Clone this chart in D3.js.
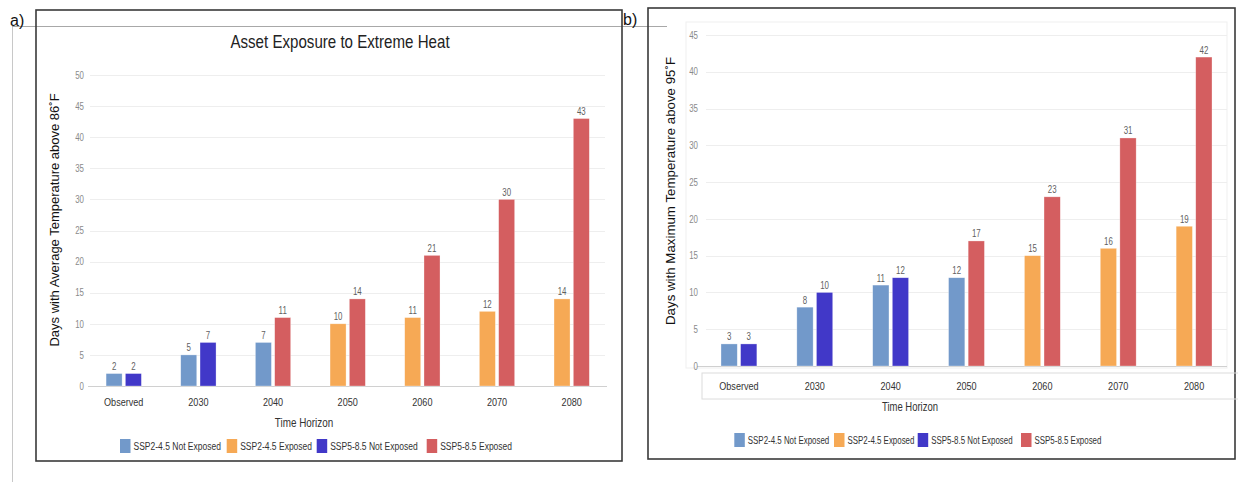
<!DOCTYPE html>
<html><head><meta charset="utf-8">
<script src="https://cdn.jsdelivr.net/npm/d3@7/dist/d3.min.js"></script>
<style>
html,body{margin:0;padding:0;background:#fff;}
svg{display:block;}
text{font-family:"Liberation Sans",Arial,sans-serif;}
</style>
</head><body>
<svg id="c" width="1238" height="482"></svg>
<script>
// ---------- data ----------
const categories = ["Observed","2030","2040","2050","2060","2070","2080"];
const seriesNames = ["SSP2-4.5 Not Exposed","SSP2-4.5 Exposed","SSP5-8.5 Not Exposed","SSP5-8.5 Exposed"];
const seriesColors = ["#7299CA","#F6A955","#4138C8","#D45E60"];

// panel a: average temperature above 86F
const aSSP245 = [2,5,7,10,11,12,14];
const aSSP245Series = ["SSP2-4.5 Not Exposed","SSP2-4.5 Not Exposed","SSP2-4.5 Not Exposed","SSP2-4.5 Exposed","SSP2-4.5 Exposed","SSP2-4.5 Exposed","SSP2-4.5 Exposed"];
const aSSP585 = [2,7,11,14,21,30,43];
const aSSP585Series = ["SSP5-8.5 Not Exposed","SSP5-8.5 Not Exposed","SSP5-8.5 Exposed","SSP5-8.5 Exposed","SSP5-8.5 Exposed","SSP5-8.5 Exposed","SSP5-8.5 Exposed"];
const aTicks = [0,5,10,15,20,25,30,35,40,45,50];

// panel b: maximum temperature above 95F
const bSSP245 = [3,8,11,12,15,16,19];
const bSSP245Series = ["SSP2-4.5 Not Exposed","SSP2-4.5 Not Exposed","SSP2-4.5 Not Exposed","SSP2-4.5 Not Exposed","SSP2-4.5 Exposed","SSP2-4.5 Exposed","SSP2-4.5 Exposed"];
const bSSP585 = [3,10,12,17,23,31,42];
const bSSP585Series = ["SSP5-8.5 Not Exposed","SSP5-8.5 Not Exposed","SSP5-8.5 Not Exposed","SSP5-8.5 Exposed","SSP5-8.5 Exposed","SSP5-8.5 Exposed","SSP5-8.5 Exposed"];
const bTicks = [0,5,10,15,20,25,30,35,40,45];

const color = d3.scaleOrdinal().domain(seriesNames).range(seriesColors);
const svg = d3.select("#c");
const SX = 0.79; // horizontal condensing to mimic the narrow font of the original

function ntext(parent, x, y, txt, size, fill, anchor, sx){
  return parent.append("text")
    .attr("transform",`translate(${x},${y}) scale(${sx||SX},1)`)
    .attr("text-anchor",anchor||"start").attr("dy","0.35em")
    .attr("fill",fill).style("font-size",size).text(txt);
}

// decorative page lines
svg.append("line").attr("x1",12.5).attr("x2",12.5).attr("y1",26).attr("y2",482).attr("stroke","#c8c8c8").attr("stroke-width",1);
svg.append("line").attr("x1",12).attr("x2",667).attr("y1",26.5).attr("y2",26.5).attr("stroke","#a8a8a8").attr("stroke-width",1);

function panel(o){
  const g = svg.append("g");
  g.append("rect").attr("x",o.frame[0]).attr("y",o.frame[1]).attr("width",o.frame[2]-o.frame[0]).attr("height",o.frame[3]-o.frame[1])
    .attr("fill","none").attr("stroke","#3a3a3a").attr("stroke-width",1.6);
  if (o.plotBox) g.append("rect").attr("x",o.plotBox[0]).attr("y",o.plotBox[1]).attr("width",o.plotBox[2]-o.plotBox[0]).attr("height",o.plotBox[3]-o.plotBox[1])
    .attr("fill","none").attr("stroke","#efefef").attr("stroke-width",1);
  if (o.axisBox) g.append("rect").attr("x",o.axisBox[0]).attr("y",o.axisBox[1]).attr("width",o.axisBox[2]-o.axisBox[0]).attr("height",o.axisBox[3]-o.axisBox[1])
    .attr("fill","none").attr("stroke","#dcdcdc").attr("stroke-width",1);

  const x = d3.scaleBand().domain(categories).range(o.xr).padding(0);
  const inner = d3.scaleBand().domain([0,1]).range([0,x.bandwidth()]).paddingInner(0.17).paddingOuter(1.02);
  const y = d3.scaleLinear().domain([0,o.ymax]).range(o.yr);

  g.append("g").selectAll("line").data(o.ticks.filter(t=>t>0)).join("line")
    .attr("x1",o.grid[0]).attr("x2",o.grid[1]).attr("y1",d=>Math.round(y(d))+0.5).attr("y2",d=>Math.round(y(d))+0.5)
    .attr("stroke","#eeeeee");
  g.append("line").attr("x1",o.base[0]).attr("x2",o.base[1]).attr("y1",y(0)+0.5).attr("y2",y(0)+0.5).attr("stroke","#d0d0d0").attr("stroke-width",1.2);

  const ya = d3.axisLeft(y).tickValues(o.ticks).tickSize(0).tickPadding(0);
  const yg = g.append("g").attr("transform",`translate(${o.ytx},0)`).call(ya);
  yg.attr("font-family",null);
  yg.select(".domain").remove();
  yg.selectAll("text").attr("fill","#8a8a8a").style("font-size","10px")
    .attr("transform",`scale(${SX},1)`);

  const rows = [];
  categories.forEach((c,i)=>{
    rows.push({c, k:0, v:o.s1[i], s:o.s1s[i]});
    rows.push({c, k:1, v:o.s2[i], s:o.s2s[i]});
  });
  g.append("g").selectAll("rect").data(rows).join("rect")
    .attr("x",d=>x(d.c)+inner(d.k)).attr("width",inner.bandwidth())
    .attr("y",d=>y(d.v)).attr("height",d=>y(0)-y(d.v))
    .attr("fill",d=>color(d.s)).attr("stroke","#ffffff").attr("stroke-opacity",0.5).attr("stroke-width",0.6);
  const lab = g.append("g");
  rows.forEach(d=>{
    ntext(lab, x(d.c)+inner(d.k)+inner.bandwidth()/2, y(d.v)-o.lblOff, d.v, "10px", "#5f5f5f", "middle");
  });

  const xa = d3.axisBottom(x).tickSize(0).tickPadding(0);
  const xg = g.append("g").attr("transform",`translate(0,${o.xty})`).call(xa);
  xg.attr("font-family",null);
  xg.select(".domain").remove();
  xg.selectAll("text").attr("fill","#333").style("font-size","11.5px").attr("dy","0.32em")
    .attr("transform",`scale(${SX},1)`);

  ntext(g, o.xtitle[0], o.xtitle[1], "Time Horizon", o.xtitleSize, "#333", "middle");
  g.append("text").attr("transform",`translate(${o.ytitle[0]},${o.ytitle[1]}) rotate(-90)`)
    .attr("text-anchor","middle").attr("dy","0.35em").attr("fill","#111").style("font-size",o.ytitleSize).text(o.ytext);

  const lg = g.append("g");
  seriesNames.forEach((s,i)=>{
    lg.append("rect").attr("x",o.legX[i]).attr("y",o.legY-7).attr("width",10.5).attr("height",14).attr("fill",color(s));
    ntext(lg, o.legX[i]+13.5, o.legY, s, "11.5px", "#333", "start", o.legSX);
  });
}

panel({
  frame:[36,10,622,461], xr:[86.4,609], yr:[386,75], ymax:50, ticks:aTicks,
  grid:[90,605], base:[88,607], ytx:84, s1:aSSP245, s1s:aSSP245Series, s2:aSSP585, s2s:aSSP585Series,
  lblOff:7, xty:402, xtitle:[304,423], xtitleSize:"12.5px", ytitle:[54,220], ytitleSize:"13px",
  ytext:"Days with Average Temperature above 86˚F",
  legX:[120,226.7,316.7,426.7], legY:446, legSX:0.74
});
panel({
  frame:[648,8,1235,459], plotBox:[686,22,1227,368], axisBox:[702,373,1245,399],
  xr:[701,1232], yr:[366,35], ymax:45, ticks:bTicks,
  grid:[706,1227], base:[697,1227], ytx:698, s1:bSSP245, s1s:bSSP245Series, s2:bSSP585, s2s:bSSP585Series,
  lblOff:7, xty:386, xtitle:[910,407], xtitleSize:"12px", ytitle:[670,191], ytitleSize:"13.3px",
  ytext:"Days with Maximum Temperature above 95˚F",
  legX:[734.3,834,917.7,1021], legY:440, legSX:0.69
});

ntext(svg, 340, 42, "Asset Exposure to Extreme Heat", "18px", "#222", "middle", 0.84);
svg.append("text").attr("x",10).attr("y",20).attr("dy","0.35em").attr("fill","#111").style("font-size","16px").text("a)");
svg.append("text").attr("x",623).attr("y",19).attr("dy","0.35em").attr("fill","#111").style("font-size","16px").text("b)");
</script>
</body></html>
